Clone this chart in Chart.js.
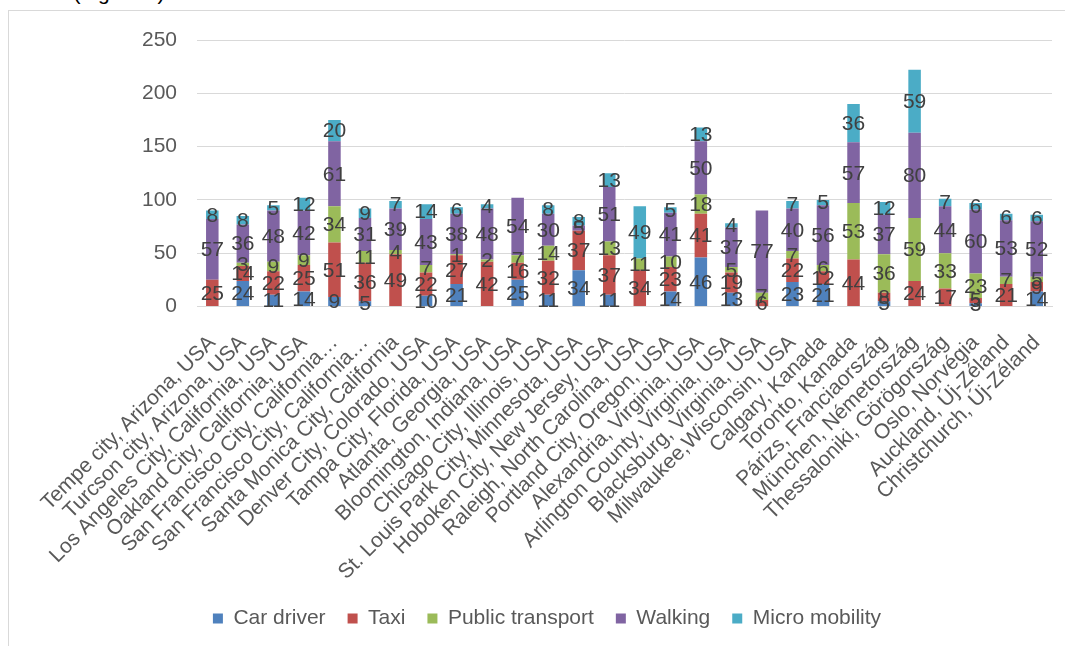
<!DOCTYPE html>
<html>
<head>
<meta charset="utf-8">
<script src="https://cdn.jsdelivr.net/npm/chart.js@4/dist/chart.umd.min.js"></script>
<style>
  html, body { margin: 0; padding: 0; background: #ffffff; overflow: hidden; }
  body { width: 1065px; height: 646px; position: relative; font-family: "Liberation Sans", Arial, sans-serif; }
  #lead { position: absolute; left: 0; top: -18px; font-size: 21px; line-height: 21px; color: #000; white-space: nowrap; }
  #frame { position: absolute; left: 8px; top: 10px; width: 1100px; height: 700px; border: 1px solid #d9d9d9; box-sizing: border-box; background: #fff; }
  #wrap { position: absolute; left: 9px; top: 11px; width: 1056px; height: 635px; }
</style>
</head>
<body>
<div id="lead">sectors (Figure 1).</div>
<div id="frame"></div>
<div id="wrap"><canvas id="chart"></canvas></div>
<script>
// City categories along the x axis
const cities = [
  "Tempe city, Arizona, USA",
  "Turcson city, Arizona, USA",
  "Los Angeles City, California, USA",
  "Oakland City, California, USA",
  "San Francisco City, California…",
  "San Francisco City, California…",
  "Santa Monica City, California",
  "Denver City, Colorado, USA",
  "Tampa City, Florida, USA",
  "Atlanta, Georgia, USA",
  "Bloomington, Indiana, USA",
  "Chicago City, Illinois, USA",
  "St. Louis Park City, Minnesota, USA",
  "Hoboken City, New Jersey, USA",
  "Raleigh, North Carolina, USA",
  "Portland City, Oregon, USA",
  "Alexandria, Virginia, USA",
  "Arlington County, Virginia, USA",
  "Blacksburg, Virginia, USA",
  "Milwaukee,Wisconsin, USA",
  "Calgary, Kanada",
  "Toronto, Kanada",
  "Párizs, Franciaország",
  "München, Németország",
  "Thessaloniki, Görögország",
  "Oslo, Norvégia",
  "Auckland, Új-Zéland",
  "Christchurch, Új-Zéland"
];

// Values per mode (null = no value reported)
const carDriver      = [null, 24, 11, 14, 9, 5, null, 10, 21, null, 25, 11, 34, 11, null, 14, 46, 13, null, 23, 21, null, 5, null, null, 3, null, 14];
const taxi           = [25, 14, 22, 25, 51, 36, 49, 22, 27, 42, 16, 32, 37, 37, 34, 23, 41, 19, 6, 22, 12, 44, 8, 24, 17, 5, 21, 9];
const publicTransport= [null, 3, 9, 9, 34, 11, 4, 7, 1, 2, 7, 14, null, 13, 11, 10, 18, 5, 7, 7, 6, 53, 36, 59, 33, 23, 7, 5];
const walking        = [57, 36, 48, 42, 61, 31, 39, 43, 38, 48, 54, 30, 5, 51, null, 41, 50, 37, 77, 40, 56, 57, 37, 80, 44, 60, 53, 52];
const microMobility  = [8, 8, 5, 12, 20, 9, 7, 14, 6, 4, null, 8, 8, 13, 49, 5, 13, 4, null, 7, 5, 36, 12, 59, 7, 6, 6, 6];

// Y axis ticks
const yTicks = [0, 50, 100, 150, 200, 250];

const FONT = "'Liberation Sans', Arial, sans-serif";

// Draws each segment's value in the middle of its bar piece
const segmentLabels = {
  id: "segmentLabels",
  afterDatasetsDraw(chart) {
    const ctx = chart.ctx;
    ctx.save();
    ctx.font = "21px " + FONT;
    ctx.fillStyle = "#404040";
    ctx.textAlign = "center";
    ctx.textBaseline = "middle";
    chart.data.datasets.forEach((ds, i) => {
      const meta = chart.getDatasetMeta(i);
      if (meta.hidden) return;
      meta.data.forEach((bar, j) => {
        const v = ds.data[j];
        if (v === null || v === undefined) return;
        const p = bar.getProps(["x", "y", "base"], true);
        ctx.fillText(String(v), p.x, (p.y + p.base) / 2 + 1);
      });
    });
    ctx.restore();
  }
};

const series = [
  { label: "Car driver", data: carDriver, color: "#4f81bd" },
  { label: "Taxi", data: taxi, color: "#c0504d" },
  { label: "Public transport", data: publicTransport, color: "#9bbb59" },
  { label: "Walking", data: walking, color: "#8064a2" },
  { label: "Micro mobility", data: microMobility, color: "#4bacc6" }
];

new Chart(document.getElementById("chart"), {
  type: "bar",
  data: {
    labels: cities,
    datasets: series.map(s => ({
      label: s.label,
      data: s.data,
      backgroundColor: s.color,
      borderWidth: 0,
      categoryPercentage: 1,
      barPercentage: 0.41
    }))
  },
  plugins: [segmentLabels],
  options: {
    responsive: true,
    maintainAspectRatio: false,
    animation: false,
    devicePixelRatio: 1,
    layout: { padding: { left: 33, right: 13, top: 29, bottom: 7 } },
    plugins: {
      tooltip: { enabled: false },
      legend: {
        position: "bottom",
        labels: {
          font: { family: FONT, size: 21 },
          color: "#595959",
          boxWidth: 10,
          boxHeight: 10,
          padding: 22
        }
      }
    },
    scales: {
      x: {
        stacked: true,
        grid: { display: false, drawTicks: false },
        border: { display: true, color: "#d9d9d9", width: 1 },
        ticks: {
          autoSkip: false,
          maxRotation: 45,
          minRotation: 45,
          padding: 24,
          color: "#595959",
          font: { family: FONT, size: 21 }
        },
        afterFit(axis) {
          axis.paddingLeft = 0;
          axis.paddingRight = 0;
          axis.height -= 20;
        }
      },
      y: {
        stacked: true,
        min: yTicks[0],
        max: yTicks[yTicks.length - 1],
        afterBuildTicks(axis) { axis.ticks = yTicks.map(v => ({ value: v })); },
        afterFit(axis) {
          axis.width += 80;
          axis.paddingTop = 0;
          axis.paddingBottom = 0;
        },
        grid: { color: "#d9d9d9", lineWidth: 1, drawTicks: false },
        border: { display: false },
        ticks: {
          padding: 20,
          color: "#595959",
          font: { family: FONT, size: 21 }
        }
      }
    }
  }
});
</script>
</body>
</html>
